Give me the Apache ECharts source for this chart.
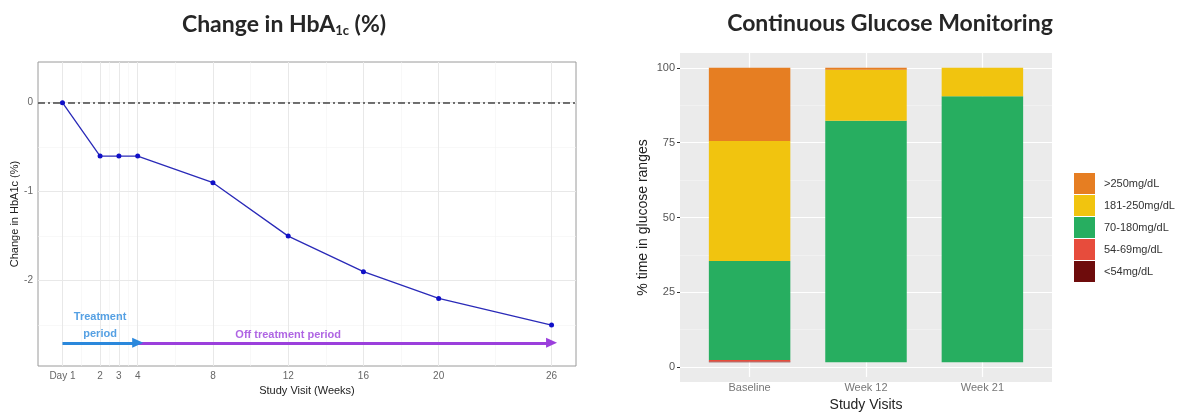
<!DOCTYPE html>
<html><head><meta charset="utf-8">
<script src="https://cdn.jsdelivr.net/npm/echarts@6/dist/echarts.min.js"></script>
<style>html,body{margin:0;padding:0;background:#fff}#c{width:1184px;height:417px}</style>
</head><body><div id="c"></div>
<script>
// ---- Left chart data ----
const weeks = [0, 2, 3, 4, 8, 12, 16, 20, 26];
const hba1cChange = [0, -0.6, -0.6, -0.6, -0.9, -1.5, -1.9, -2.2, -2.5];
const weekTickLabels = ['Day 1', '2', '3', '4', '8', '12', '16', '20', '26'];
const weekMinorTicks = [1, 2.5, 3.5, 6, 10, 14, 18, 23];
const hbaYTicks = [-2, -1, 0];
const hbaYMinor = [-2.5, -1.5, -0.5];
const treatmentArrow = [[0, -2.7], [4, -2.7]];
const offTreatmentArrow = [[4, -2.7], [26, -2.7]];
const annotations = [[2, -2.51, 'Treatment\nperiod'], [12, -2.61, 'Off treatment period']];

// ---- Right chart data ----
const visits = ['Baseline', 'Week 12', 'Week 21'];
const rangeNames = ['<54mg/dL', '54-69mg/dL', '70-180mg/dL', '181-250mg/dL', '>250mg/dL'];
const below54 = [0.3, 0, 0];
const r54to69 = [0.5, 0, 0];
const r70to180 = [33.6, 82.0, 90.3];
const r181to250 = [40.7, 17.3, 9.7];
const above250 = [24.9, 0.7, 0];
const pctTicks = [0, 25, 50, 75, 100];
const pctMinor = [12.5, 37.5, 62.5, 87.5];

// ---- styles ----
const rangeColors = ['#6e0c0c', '#e74c3c', '#27ae60', '#f1c40f', '#e67e22'];
const annColors = ['#2a88dc', '#9b3fdc'];
const FONT = 'Liberation Sans, Arial, sans-serif';
const TFONT = 'Lato, Open Sans, sans-serif';

const chart = echarts.init(document.getElementById('c'), null, {renderer: 'canvas'});

function vLines(vals, color, width) {
  return vals.map(v => ({xAxis: v, lineStyle: {color: color, width: width, type: 'solid'}}));
}
function hLines(vals, color, width) {
  return vals.map(v => ({yAxis: v, lineStyle: {color: color, width: width, type: 'solid'}}));
}

const rangeSeries = [below54, r54to69, r70to180, r181to250, above250].map((arr, i) => ({
  type: 'bar', name: rangeNames[i], xAxisIndex: 2, yAxisIndex: 2, stack: 'cgm',
  barWidth: '70%', z: 3,
  itemStyle: {color: rangeColors[i]},
  data: arr
}));

const option = {
  animation: false,
  textStyle: {fontFamily: FONT},
  title: [
    {text: '{a|Change in HbA}{s|1c}{a| (%)}', left: 279, top: 7, textAlign: 'center',
     textStyle: {rich: {a: {fontFamily: TFONT, fontWeight: 'bold', fontSize: 23, color: '#262626'},
                        s: {fontFamily: TFONT, fontWeight: 'bold', fontSize: 13, color: '#262626', verticalAlign: 'bottom', padding: [12, 0, 0, 0]}}}},
    {text: 'Continuous Glucose Monitoring', left: 885, top: 7, textAlign: 'center',
     textStyle: {fontFamily: TFONT, fontWeight: 'bold', fontSize: 23, color: '#262626'}}
  ],
  legend: {
    orient: 'vertical', left: 1074, top: 173, padding: 0, itemWidth: 21, itemHeight: 21, itemGap: 1,
    icon: 'rect', selectedMode: false,
    data: rangeNames.slice().reverse(),
    textStyle: {fontFamily: FONT, fontSize: 11, color: '#333', padding: [0, 0, 0, 4]}
  },
  grid: [
    {left: 38, top: 62, width: 538, height: 304, show: true, borderColor: '#9a9a9a', borderWidth: 1, backgroundColor: '#fff'},
    {left: 680, top: 53, width: 372, height: 329, show: true, borderWidth: 0, backgroundColor: '#ebebeb'},
    {left: 691.4, top: 53, width: 349.2, height: 329, show: false}
  ],
  xAxis: [
    {type: 'value', gridIndex: 0, min: -1.3, max: 27.3,
     name: 'Study Visit (Weeks)', nameLocation: 'middle', nameGap: 18,
     nameTextStyle: {fontFamily: FONT, fontSize: 11, color: '#222'},
     axisLine: {show: false}, splitLine: {show: false},
     axisTick: {show: true, length: 3, lineStyle: {color: '#888'}, customValues: weeks},
     axisLabel: {fontSize: 10, color: '#666', margin: 5, customValues: weeks,
                 formatter: v => weekTickLabels[weeks.indexOf(v)]}},
    {type: 'value', gridIndex: 1, min: 0, max: 1, show: false},
    {type: 'category', gridIndex: 2, data: visits,
     name: 'Study Visits', nameLocation: 'middle', nameGap: 19,
     nameTextStyle: {fontFamily: FONT, fontSize: 14, color: '#222'},
     axisLine: {show: false}, splitLine: {show: false},
     axisTick: {show: true, length: 3, alignWithLabel: true, lineStyle: {color: '#333'}},
     axisLabel: {fontSize: 11, color: '#777', margin: 5}}
  ],
  yAxis: [
    {type: 'value', gridIndex: 0, min: -2.96, max: 0.457,
     name: 'Change in HbA1c (%)', nameLocation: 'middle', nameGap: 17,
     nameTextStyle: {fontFamily: FONT, fontSize: 11, color: '#222'},
     axisLine: {show: false}, splitLine: {show: false},
     axisTick: {show: true, length: 3, lineStyle: {color: '#888'}, customValues: hbaYTicks},
     axisLabel: {fontSize: 10, color: '#666', margin: 5, customValues: hbaYTicks}},
    {type: 'value', gridIndex: 1, min: -5, max: 105,
     name: '% time in glucose ranges', nameLocation: 'middle', nameGap: 30,
     nameTextStyle: {fontFamily: FONT, fontSize: 14, color: '#222'},
     axisLine: {show: false}, splitLine: {show: false},
     axisTick: {show: true, length: 3, lineStyle: {color: '#333'}, customValues: pctTicks},
     axisLabel: {fontSize: 11, color: '#555', margin: 5, customValues: pctTicks}},
    {type: 'value', gridIndex: 2, min: -5, max: 105, show: false}
  ],
  series: [
    // left gridlines
    {type: 'line', xAxisIndex: 0, yAxisIndex: 0, data: [], silent: true, z: 1,
     markLine: {silent: true, z: 1, symbol: 'none', label: {show: false}, animation: false,
       data: [].concat(vLines(weekMinorTicks, '#f4f4f4', 0.6), hLines(hbaYMinor, '#f4f4f4', 0.6),
                       vLines(weeks, '#e8e8e8', 1), hLines(hbaYTicks, '#e8e8e8', 1))}},
    // zero reference line
    {type: 'line', xAxisIndex: 0, yAxisIndex: 0, data: [], silent: true, z: 2,
     markLine: {silent: true, z: 2, symbol: 'none', label: {show: false}, animation: false,
       data: [{yAxis: 0, lineStyle: {color: '#444', width: 1.5, type: [7, 3, 2, 3]}}]}},
    // arrows
    {type: 'line', xAxisIndex: 0, yAxisIndex: 0, data: [], silent: true, z: 3,
     markLine: {silent: true, z: 3, symbol: ['none', 'triangle'], symbolSize: [10, 11], label: {show: false}, animation: false,
       data: [
         [{coord: offTreatmentArrow[0], lineStyle: {color: annColors[1], width: 3, type: 'solid'}, itemStyle: {color: annColors[1]}},
          {coord: offTreatmentArrow[1]}],
         [{coord: treatmentArrow[0], lineStyle: {color: annColors[0], width: 3, type: 'solid'}, itemStyle: {color: annColors[0]}},
          {coord: treatmentArrow[1]}]
       ]}},
    // annotations
    {type: 'scatter', xAxisIndex: 0, yAxisIndex: 0, symbolSize: 0, silent: true, z: 4,
     label: {show: true, position: 'inside', fontFamily: FONT, fontWeight: 'bold', fontSize: 11, lineHeight: 17,
             formatter: p => p.name},
     data: annotations.map((a, i) => ({value: [a[0], a[1]], name: a[2], label: {color: annColors[i]}}))},
    // HbA1c line
    {type: 'line', xAxisIndex: 0, yAxisIndex: 0, z: 5,
     data: weeks.map((w, i) => [w, hba1cChange[i]]),
     lineStyle: {color: '#2a2ab8', width: 1.3}, itemStyle: {color: '#1010c8'},
     symbol: 'circle', symbolSize: 5, showSymbol: true},
    // right horizontal gridlines
    {type: 'line', xAxisIndex: 1, yAxisIndex: 1, data: [], silent: true, z: 1,
     markLine: {silent: true, z: 1, symbol: 'none', label: {show: false}, animation: false,
       data: [].concat(hLines(pctMinor, '#f5f5f5', 0.6), hLines(pctTicks, '#ffffff', 1.2))}},
    // right vertical gridlines at category centres
    {type: 'line', xAxisIndex: 2, yAxisIndex: 2, data: [], silent: true, z: 1,
     markLine: {silent: true, z: 1, symbol: 'none', label: {show: false}, animation: false,
       data: visits.map((v, i) => ({xAxis: i, lineStyle: {color: '#ffffff', width: 1.2, type: 'solid'}}))}}
  ].concat(rangeSeries)
};
chart.setOption(option);
</script></body></html>
